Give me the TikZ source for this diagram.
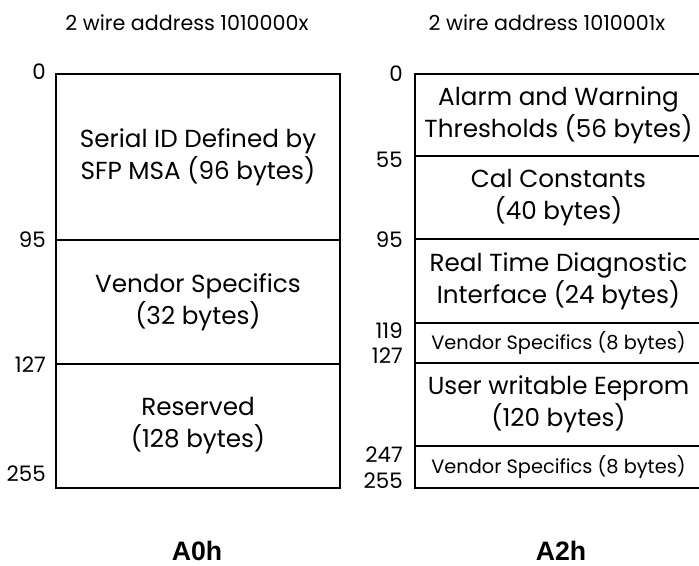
\documentclass[tikz,border=0pt]{standalone}
\usepackage{fontspec}
\setmainfont{Poppins}
\newfontfamily\pagefont{Liberation Sans}
\usetikzlibrary{positioning}

\tikzset{
  region/.style={draw, line width=1.5pt, outer sep=0pt, inner sep=0pt,
    align=center, font=\fontsize{18.5}{24}\selectfont},
  smallregion/.style={region, font=\fontsize{14.5}{16}\selectfont},
  addr/.style={anchor=east, inner sep=0pt, font=\fontsize{16}{18}\selectfont},
  wiretitle/.style={font=\fontsize{15.5}{18}\selectfont},
  pagename/.style={font=\pagefont\bfseries\fontsize{20}{22}\selectfont}
}

\begin{document}
\begin{tikzpicture}[x=0.75pt,y=-0.75pt]
\useasboundingbox (0,0) rectangle (699,565);

\node[wiretitle] (t0) at (187,23) {2 wire address 1010000x};
\node[wiretitle] (t2) at (547,23) {2 wire address 1010001x};

% A0h
\node[region, minimum width=213pt, minimum height=124.5pt, anchor=north west]
    (sid) at (56,74) {Serial ID Defined by\\SFP MSA (96 bytes)};
\node[region, minimum width=213pt, minimum height=93pt, below=0pt of sid]
    (vs32) {Vendor Specifics\\(32 bytes)};
\node[region, minimum width=213pt, minimum height=93pt, below=0pt of vs32]
    (rsv) {Reserved\\(128 bytes)};

\foreach \n/\y in {0/72,95/240,127/365,255/474}
    \node[addr] (a0\n) at (46,\y) {\n};

% A2h
\node[region, minimum width=215.25pt, minimum height=61.5pt, anchor=north west]
    (alarm) at (415,74) {Alarm and Warning\\Thresholds (56 bytes)};
\node[region, minimum width=215.25pt, minimum height=62.25pt, below=0pt of alarm]
    (cal) {Cal Constants\\(40 bytes)};
\node[region, minimum width=215.25pt, minimum height=63pt, below=0pt of cal]
    (diag) {Real Time Diagnostic\\Interface (24 bytes)};
\node[smallregion, minimum width=215.25pt, minimum height=30pt, below=0pt of diag]
    (vs8a) {Vendor Specifics (8 bytes)};
\node[region, minimum width=215.25pt, minimum height=62.25pt, below=0pt of vs8a]
    (user) {User writable Eeprom\\(120 bytes)};
\node[smallregion, minimum width=215.25pt, minimum height=31.5pt, below=0pt of user]
    (vs8b) {Vendor Specifics (8 bytes)};

\foreach \n/\y in {0/74,55/160,95/240,119/331,127/356,247/455,255/481}
    \node[addr] (a2\n) at (403,\y) {\n};

\node[pagename] (a0h) at (197,551) {A0h};
\node[pagename] (a2h) at (561,551) {A2h};
\end{tikzpicture}
\end{document}
